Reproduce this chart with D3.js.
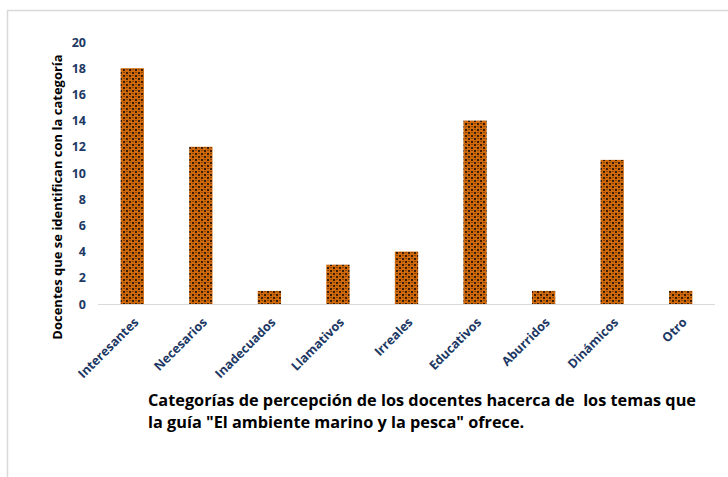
<!DOCTYPE html>
<html>
<head>
<meta charset="utf-8">
<script src="https://cdn.jsdelivr.net/npm/d3@7"></script>
<style>
  html, body { margin: 0; padding: 0; background: #fff; }
  svg { display: block; }
</style>
</head>
<body>
<svg id="chart" width="728" height="477"></svg>
<script>
// Perception categories and number of teachers per category
const categories = ["Interesantes", "Necesarios", "Inadecuados", "Llamativos", "Irreales", "Educativos", "Aburridos", "Dinámicos", "Otro"];
const docentes = [18, 12, 1, 3, 4, 14, 1, 11, 1];
const yTicks = [0, 2, 4, 6, 8, 10, 12, 14, 16, 18, 20];

const yTitle = "Docentes que se identifican con la categoría";
const xTitleLines = [
  "Categorías de percepción de los docentes hacerca de\u00a0 los temas que",
  "la guía \"El ambiente marino y la pesca\" ofrece."
];

const svg = d3.select("#chart");
const navy = "#203864";
const font = "'Open Sans', Lato, 'Liberation Sans', sans-serif";

// Outer frame
svg.append("path")
  .attr("d", "M7.5,477 L7.5,10.5 L728,10.5")
  .attr("fill", "none")
  .attr("stroke", "#d9d9d9")
  .attr("stroke-width", 1.5);

// Woven dot pattern for the bars
const defs = svg.append("defs");
const pat = defs.append("pattern")
  .attr("id", "weave")
  .attr("patternUnits", "userSpaceOnUse")
  .attr("width", 6).attr("height", 6);
pat.append("rect").attr("width", 6).attr("height", 6).attr("fill", "#cf690b");
pat.append("rect").attr("x", 0).attr("y", 0).attr("width", 2).attr("height", 2).attr("fill", "#3a1d05");
pat.append("rect").attr("x", 3).attr("y", 3).attr("width", 2).attr("height", 2).attr("fill", "#3a1d05");
pat.append("rect").attr("x", 3).attr("y", 0).attr("width", 2).attr("height", 1).attr("fill", "#8a4507");
pat.append("rect").attr("x", 0).attr("y", 3).attr("width", 2).attr("height", 1).attr("fill", "#8a4507");

const x = d3.scaleBand()
  .domain(categories)
  .range([98, 715])
  .paddingInner(0.66)
  .paddingOuter(0.33);

const y = d3.scaleLinear()
  .domain([0, 20])
  .range([304, 42]);

// Bars
svg.append("g")
  .selectAll("rect")
  .data(categories)
  .join("rect")
  .attr("x", d => x(d))
  .attr("width", x.bandwidth())
  .attr("y", (d, i) => y(docentes[i]))
  .attr("height", (d, i) => y(0) - y(docentes[i]))
  .attr("fill", "url(#weave)");

// Baseline
svg.append("line")
  .attr("x1", 98).attr("x2", 715)
  .attr("y1", y(0) + 0.5).attr("y2", y(0) + 0.5)
  .attr("stroke", "#d9d9d9")
  .attr("stroke-width", 1);

// Y axis labels
const yAxis = svg.append("g")
  .attr("transform", "translate(86,0)")
  .call(d3.axisLeft(y).tickValues(yTicks).tickSize(0).tickPadding(0));
yAxis.select(".domain").remove();
yAxis.selectAll("text")
  .attr("fill", navy)
  .style("font-family", font)
  .style("font-weight", "bold")
  .style("font-size", "12.5px");

// X axis labels, rotated
const xAxis = svg.append("g")
  .attr("transform", `translate(0,${y(0)})`)
  .call(d3.axisBottom(x).tickSize(0).tickPadding(0));
xAxis.select(".domain").remove();
xAxis.selectAll("text")
  .attr("fill", navy)
  .style("font-family", font)
  .style("font-weight", "bold")
  .style("font-size", "12.5px")
  .attr("text-anchor", "end")
  .attr("dy", null)
  .attr("y", 0)
  .attr("transform", "translate(7,19) rotate(-45)");

// Y axis title
svg.append("text")
  .attr("transform", "translate(62,197) rotate(-90)")
  .attr("text-anchor", "middle")
  .style("font-family", font)
  .style("font-weight", "bold")
  .style("font-size", "13px")
  .attr("fill", "#000")
  .text(yTitle);

// X axis title
svg.append("g")
  .selectAll("text")
  .data(xTitleLines)
  .join("text")
  .attr("x", 148)
  .attr("y", (d, i) => 406 + i * 22)
  .style("font-family", font)
  .style("font-weight", "bold")
  .style("font-size", "16.3px")
  .attr("fill", "#000")
  .text(d => d);
</script>
</body>
</html>
